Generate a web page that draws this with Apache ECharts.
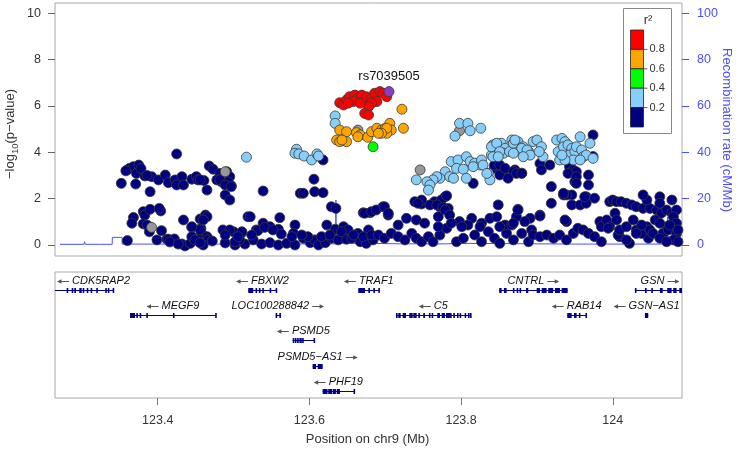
<!DOCTYPE html>
<html><head><meta charset="utf-8">
<script src="https://cdn.jsdelivr.net/npm/echarts@6/dist/echarts.min.js"></script>
<style>html,body{margin:0;padding:0;background:#fff}#c{width:736px;height:450px}</style>
</head><body><div id="c"></div>
<script>
const FONT = '"Liberation Sans", Arial, Helvetica, sans-serif';
// ---------- axes ----------
const posMin = 123.2646, posMax = 124.0913;
const pMin = -0.475, pMax = 10.444;
const pTicks = [0, 2, 4, 6, 8, 10];
const recombTicks = [0, 20, 40, 60, 80, 100];
const posTicks = [123.4, 123.6, 123.8, 124];
const leadName = 'rs7039505';

// ---------- SNPs: [position (Mb), -log10 p] ----------
const navyPts = [
[123.425,3.93],[123.360,3.24],[123.363,3.31],[123.368,3.38],[123.375,3.45],[123.372,3.09],[123.383,2.98],[123.392,2.95],[123.352,2.66],[123.371,2.63],[123.390,2.30],[123.401,2.81],[123.410,3.02],[123.414,2.69],[123.423,2.81],[123.425,2.59],[123.432,2.95],[123.434,2.59],[123.445,2.84],[123.451,2.95],[123.453,2.81],[123.461,2.78],[123.465,2.37],[123.468,3.41],[123.473,3.27],[123.482,3.09],[123.491,3.16],[123.495,2.95],[123.478,2.81],[123.484,2.73],[123.491,2.69],[123.497,2.56],[123.489,2.16],[123.495,1.94],[123.456,2.81],[123.358,3.20],[123.378,3.30],[123.386,3.00],[123.482,2.81],[123.493,2.73],[123.489,2.59],[123.497,2.52],
[123.368,1.19],[123.366,0.94],[123.381,1.44],[123.383,1.29],[123.390,1.54],[123.404,1.47],[123.402,1.58],[123.381,0.91],[123.386,0.86],[123.389,0.57],[123.405,0.62],[123.360,0.19],[123.399,0.22],[123.412,0.25],[123.414,0.25],[123.422,0.26],[123.434,1.08],[123.445,0.76],[123.456,1.12],[123.463,1.29],[123.457,0.72],[123.458,0.50],[123.465,0.36],[123.467,0.25],[123.432,0.04],[123.436,-0.04],[123.443,0.07],[123.445,0.36],[123.449,0.22],[123.460,0.00],[123.465,1.22],[123.460,1.08],[123.456,0.65],[123.445,0.79],[123.486,0.65],[123.500,0.57],[123.511,0.53],[123.519,1.22],[123.416,0.13],[123.427,0.04],[123.456,0.09],[123.472,0.17],[123.489,0.09],[123.502,0.00],[123.515,0.04],[123.508,0.22],
[123.618,3.67],[123.539,2.33],[123.588,2.23],[123.592,2.23],[123.606,2.84],[123.607,2.30],[123.618,2.26],[123.629,1.65],[123.635,1.58],[123.671,1.39],[123.680,1.39],[123.522,1.22],[123.561,1.18],[123.539,0.94],[123.530,0.65],[123.548,0.79],[123.559,0.68],[123.581,0.86],[123.579,0.50],[123.495,0.65],[123.511,0.57],[123.489,0.43],[123.623,0.86],[123.634,0.68],[123.645,0.79],[123.651,0.65],[123.664,0.50],[123.678,0.65],[123.673,1.37],[123.682,1.44],[123.697,1.65],[123.704,1.29],[123.739,1.87],[123.748,1.77],[123.765,1.87],[123.779,2.08],[123.772,1.65],[123.783,1.58],[123.816,2.66],
[123.502,0.14],[123.526,0.22],[123.537,0.04],[123.548,0.10],[123.559,0.00],[123.570,0.07],[123.581,0.00],[123.592,0.29],[123.601,0.10],[123.607,0.22],[123.612,0.00],[123.621,0.10],[123.629,0.29],[123.638,0.22],[123.649,0.25],[123.656,0.29],[123.667,0.14],[123.675,0.07],[123.684,0.22],[123.532,0.62],[123.541,0.76],[123.552,0.65],[123.563,0.47],[123.598,0.36],[123.590,0.43],[123.577,0.36],[123.524,0.43],[123.506,0.36],[123.616,0.36],[123.627,0.43],[123.642,0.57],[123.658,0.43],[123.671,0.36],[123.682,0.43],
[123.748,1.94],[123.743,1.80],[123.759,1.73],[123.774,1.94],[123.781,2.12],[123.768,1.73],[123.776,1.63],[123.844,3.31],[123.851,3.24],[123.860,3.16],[123.871,3.24],[123.880,3.10],[123.862,2.95],[123.851,3.02],[123.688,1.51],[123.699,1.65],[123.704,1.37],[123.728,1.15],[123.741,1.08],[123.770,1.22],[123.779,1.51],[123.785,1.29],[123.798,1.01],[123.814,1.15],[123.827,0.94],[123.838,1.15],[123.849,1.73],[123.875,1.54],[123.873,1.22],[123.891,1.15],
[123.691,0.43],[123.699,0.29],[123.708,0.50],[123.717,0.36],[123.726,0.22],[123.735,0.50],[123.741,0.29],[123.748,0.14],[123.757,0.36],[123.763,0.14],[123.772,0.43],[123.781,0.72],[123.787,0.94],[123.794,0.14],[123.803,0.29],[123.809,0.86],[123.818,0.43],[123.827,0.14],[123.836,0.57],[123.844,0.29],[123.851,0.07],[123.860,0.50],[123.869,0.22],[123.880,0.50],[123.889,0.14],[123.893,0.65],[123.717,0.86],[123.752,0.94],[123.770,0.79],[123.801,0.79],[123.858,0.86],[123.867,0.86],
[123.844,3.45],[123.851,3.45],[123.858,3.31],[123.869,3.16],[123.873,3.09],[123.880,3.09],[123.862,2.88],[123.904,3.52],[123.906,3.24],[123.917,3.45],[123.943,3.38],[123.948,3.24],[123.952,3.16],[123.941,3.09],[123.950,2.73],[123.952,2.95],[123.968,3.02],[123.968,2.59],[123.974,4.75],[123.974,3.82],[123.919,2.52],[123.946,2.16],[123.939,2.16],[123.935,2.16],[123.965,2.08],[123.976,2.02],[123.919,1.80],[123.946,1.73],[123.957,1.73],[123.965,1.80],[123.904,1.29],[123.939,1.01],[123.875,1.51],[123.869,0.94],[123.884,1.01],[123.847,1.22],[123.851,0.79],[123.825,0.79],[123.952,2.66],[123.935,2.23],[123.963,2.08],[123.904,1.25],[123.983,1.01],[124.003,1.37],[124.009,0.36],[124.022,0.07],[124.047,0.29],[124.071,0.79],[123.937,1.08],[123.985,0.79],
[123.996,1.87],[124.000,1.94],[124.005,1.87],[124.011,1.87],[124.018,1.80],[124.025,1.73],[124.031,1.65],[124.040,1.58],[124.049,1.58],[124.058,1.51],[124.064,1.37],[124.071,1.51],[124.078,1.37],[124.084,1.51],[124.078,1.94],[124.062,2.08],[124.062,1.80],[124.045,1.94],[124.040,2.16],[123.992,1.08],[123.996,0.79],[124.007,0.43],[124.009,0.65],[124.018,0.79],[124.027,1.08],[124.031,0.65],[124.038,0.50],[124.045,0.79],[124.049,0.65],[124.056,1.08],[124.062,0.94],[124.066,0.50],[124.073,0.65],[124.080,1.22],[124.084,0.94],[124.084,0.50],[124.080,0.22],
[123.895,0.43],[123.904,0.36],[123.913,0.43],[123.922,0.29],[123.930,0.43],[123.939,0.22],[123.948,0.50],[123.954,0.72],[123.961,0.65],[123.968,0.50],[123.976,0.36],[123.985,0.14],[123.994,0.72],[124.005,1.08],[124.018,0.22],[124.031,0.50],[124.038,0.86],[124.053,0.50],[124.062,0.29],[124.075,0.86],[124.086,0.65],[124.086,0.14],[124.071,0.14]
];
const grayPts = [[123.392,0.76],[123.489,3.16],[123.798,4.93],[123.746,3.24],[123.664,4.96]];
const lightbluePts = [
[123.517,3.79],[123.583,4.13],[123.581,3.96],[123.586,3.93],[123.593,3.84],[123.603,3.67],[123.610,3.93],[123.612,3.84],[123.634,5.57],[123.634,5.25],
[123.798,5.25],[123.809,5.25],[123.812,4.93],[123.792,4.70],[123.826,5.04],[123.842,4.32],[123.853,4.39],[123.858,4.17],[123.867,4.53],[123.875,4.46],[123.882,4.24],[123.889,4.03],[123.871,4.03],[123.856,3.96],[123.840,3.88],[123.895,4.46],
[123.787,3.60],[123.796,3.67],[123.807,3.81],[123.812,3.60],[123.818,3.53],[123.825,3.45],[123.794,3.31],[123.803,3.27],[123.816,3.38],[123.827,3.67],[123.779,3.16],[123.785,2.95],[123.772,2.88],[123.790,2.88],[123.768,2.95],[123.763,2.81],[123.741,2.81],[123.755,2.73],[123.759,2.59],[123.757,2.37],[123.807,2.88],[123.836,3.09],[123.838,2.81],[123.829,3.45],[123.834,3.09],
[123.840,4.24],[123.847,4.39],[123.851,4.03],[123.864,4.03],[123.869,4.39],[123.871,4.53],[123.880,4.17],[123.887,4.10],[123.891,3.88],[123.882,3.81],[123.869,3.96],[123.842,3.81],[123.849,3.81],[123.900,4.53],[123.906,4.24],[123.908,3.81],[123.903,4.03],
[123.926,4.53],[123.933,4.60],[123.937,4.46],[123.928,4.03],[123.935,4.24],[123.941,4.32],[123.946,4.17],[123.943,3.88],[123.950,4.03],[123.952,4.24],[123.957,4.67],[123.959,4.10],[123.961,3.81],[123.965,3.88],[123.970,4.39],[123.930,3.67],[123.948,3.67],[123.957,3.67],[123.974,3.74],[123.937,3.67],[123.933,3.88]
];
const greenPts = [[123.684,4.24]];
const orangePts = [
[123.640,4.96],[123.649,4.89],[123.662,4.85],[123.667,4.75],[123.636,4.53],[123.640,4.46],[123.649,4.46],[123.664,4.67],[123.677,4.65],[123.682,4.89],[123.689,5.04],[123.695,4.96],[123.700,5.04],[123.706,5.25],[123.708,4.96],[123.702,4.82],[123.722,5.86],[123.724,5.04],[123.702,5.04],[123.695,4.82],[123.691,4.82],[123.643,4.53]
];
const redPts = [
[123.640,6.14],[123.645,6.04],[123.649,6.26],[123.653,6.40],[123.660,6.47],[123.664,6.33],[123.669,6.47],[123.673,6.19],[123.675,6.40],[123.682,6.33],[123.686,6.55],[123.689,6.19],[123.693,6.62],[123.697,6.55],[123.702,6.40],[123.682,6.12],[123.678,5.97],[123.673,5.68],[123.678,5.61],[123.658,6.19],[123.651,6.12],[123.667,6.12]
];
const leadPts = [[123.705,6.62]];

// ---------- recombination rate (cM/Mb) ----------
const recombPos  = [123.2712,123.303,123.3035,123.3045,123.325,123.3255,123.3265,123.340,123.3402,123.353,123.3532,123.48,123.6345,123.635,123.6355,123.68,123.72,123.78,123.80,123.85,123.95,124.072,124.0725,124.0735,124.0913];
const recombRate = [0.3,0.3,1.4,0.3,0.3,0.8,0.3,0.3,3.3,3.3,0.4,0.4,0.5,19.4,0.7,0.7,0.5,0.5,0.7,0.6,0.4,0.4,12.2,0.5,0.4];

// ---------- legend ----------
const legendColors = ['#FF0000','#FFA500','#00FF00','#87CEFA','#000080'];
const legendLabels = ['0.8','0.6','0.4','0.2'];

// ---------- genes ----------
const geneName   = ['CDK5RAP2','FBXW2','TRAF1','CNTRL','GSN','MEGF9','LOC100288842','C5','RAB14','GSN\u2212AS1','PSMD5','PSMD5\u2212AS1','PHF19'];
const geneStart  = [123.151,123.5194,123.6645,123.8503,124.0292,123.3635,123.5555,123.7142,123.9400,124.0424,123.5780,123.6043,123.6175];
const geneEnd    = [123.3424,123.5569,123.6922,123.9405,124.0955,123.4768,123.5612,123.8126,123.9647,124.0468,123.6061,123.6175,123.6588];
const geneRow    = [1,1,1,1,1,2,2,2,2,2,3,4,5];
const geneStrand = ['-','-','-','+','+','-','+','-','-','-','-','+','-'];
const geneExons = [
 [[123.2800,123.2817],[123.2866,123.2887],[123.2900,123.2923],[123.2966,123.2998],[123.3011,123.3028],[123.3064,123.3077],[123.3116,123.3134],[123.3190,123.3200],[123.3308,123.3318],[123.3342,123.3352],[123.3406,123.3424]],
 [[123.5194,123.5260],[123.5290,123.5300],[123.5334,123.5344],[123.5379,123.5389],[123.5476,123.5486],[123.5555,123.5569]],
 [[123.6645,123.6733],[123.6777,123.6799],[123.6843,123.6865],[123.6909,123.6922]],
 [[123.8503,123.8535],[123.8565,123.8601],[123.8683,123.8693],[123.8733,123.8754],[123.8771,123.8781],[123.8856,123.8886],[123.8997,123.9040],[123.9063,123.9128],[123.9149,123.9215],[123.9238,123.9304],[123.9326,123.9405]],
 [[124.0292,124.0302],[124.0424,124.0447],[124.0508,124.0518],[124.0622,124.0658],[124.0718,124.0776],[124.0797,124.0842],[124.0877,124.0920]],
 [[123.3635,123.3701],[123.3718,123.3728],[123.3762,123.3772],[123.3850,123.3860],[123.4201,123.4211],[123.4758,123.4768]],
 [[123.5555,123.5563],[123.5604,123.5612]],
 [[123.7142,123.7150],[123.7172,123.7204],[123.7230,123.7274],[123.7317,123.7362],[123.7370,123.7415],[123.7436,123.7458],[123.7501,123.7524],[123.7576,123.7584],[123.7612,123.7633],[123.7686,123.7722],[123.7744,123.7788],[123.7801,123.7876],[123.7897,123.7919],[123.7946,123.7954],[123.7981,123.7989],[123.8047,123.8055],[123.8091,123.8099],[123.8118,123.8126]],
 [[123.9400,123.9458],[123.9489,123.9524],[123.9553,123.9563],[123.9640,123.9647]],
 [[124.0424,124.0468]],
 [[123.5780,123.5800],[123.5808,123.5830],[123.5838,123.5860],[123.5868,123.5900],[123.5905,123.5920],[123.6055,123.6061]],
 [[123.6043,123.6087],[123.6110,123.6175]],
 [[123.6175,123.6240],[123.6248,123.6300],[123.6308,123.6350],[123.6360,123.6403],[123.6582,123.6588]]
];

// ---------- build ----------
const GENE_COLOR = '#00008B';
const BLUE = '#4d4dff';
const ARROW_LEN = 12, ARROW_GAP = 3;
const mctx = document.createElement('canvas').getContext('2d');
function textW(t, font){ mctx.font = font; return mctx.measureText(t).width; }

function renderGene(params, api){
  const i = api.value(3);
  const row = api.value(2);
  const cs = params.coordSys;
  const p0 = api.coord([api.value(0), row]);
  const p1 = api.coord([api.value(1), row]);
  const y = Math.round(p0[1]) + 0.5;
  const x0 = Math.max(p0[0], cs.x), x1 = Math.min(p1[0], cs.x + cs.width);
  const children = [{type:'line', shape:{x1:x0, y1:y, x2:x1, y2:y}, style:{stroke:GENE_COLOR, lineWidth:1}}];
  geneExons[i].forEach(function(ex){
    const ea = api.coord([ex[0], row])[0], eb = api.coord([ex[1], row])[0];
    children.push({type:'rect', shape:{x:ea, y:y-2.5, width:Math.max(eb-ea, 1.6), height:5}, style:{fill:GENE_COLOR}});
  });
  const name = geneName[i];
  const minus = geneStrand[i] === '-';
  const nw = textW(name, 'italic 11px ' + FONT);
  const tw = nw + ARROW_LEN + ARROW_GAP;
  let cx = (p0[0] + p1[0]) / 2;
  cx = Math.max(cs.x + tw/2 + 2, Math.min(cs.x + cs.width - tw/2 - 2, cx));
  const L = cx - tw/2;
  const ty = y - 9.5;
  const ay = Math.round(ty) + 0.5;
  let nameX, a0, a1, tip;
  if (minus) { a0 = L; a1 = L + ARROW_LEN; tip = a0; nameX = L + ARROW_LEN + ARROW_GAP; }
  else { nameX = L; a0 = L + nw + ARROW_GAP; a1 = a0 + ARROW_LEN; tip = a1; }
  const dir = minus ? 1 : -1;
  children.push({type:'line', shape:{x1:a0 + (minus?2:0), y1:ay, x2:a1 - (minus?0:2), y2:ay}, style:{stroke:'#555', lineWidth:1}});
  children.push({type:'polygon', shape:{points:[[tip, ay],[tip + dir*4.5, ay-2.2],[tip + dir*4.5, ay+2.2]]}, style:{fill:'#555'}});
  children.push({type:'text', x:nameX, y:ty, style:{text:name, align:'left', verticalAlign:'middle',
    font:'italic 11px ' + FONT, fill:'#111'}});
  return {type:'group', children:children};
}

function snpSeries(name, data, color, extra){
  return Object.assign({
    name:name, type:'scatter', xAxisIndex:0, yAxisIndex:0, data:data, symbol:'circle', symbolSize:10,
    itemStyle:{color:color, borderColor:'#3a3a3a', borderWidth:0.8, opacity:1}, z:3, silent:true
  }, extra || {});
}

const legendGraphics = [];
const lgX = 630.5, lgTop = 30, lgH = 19.4, lgW = 13;
legendGraphics.push({type:'rect', shape:{x:623.5, y:8.5, width:48, height:125}, style:{fill:'#fff', stroke:'#888', lineWidth:1}, z:10});
legendGraphics.push({type:'text', x:648, y:20, style:{text:'r\u00B2', font:'13px ' + FONT, fill:'#333', align:'center', verticalAlign:'middle'}, z:11});
legendColors.forEach(function(c, k){
  legendGraphics.push({type:'rect', shape:{x:lgX, y:lgTop + k*lgH, width:lgW, height:lgH}, style:{fill:c, stroke:'#222', lineWidth:0.8}, z:11});
});
legendLabels.forEach(function(t, k){
  const yy = lgTop + (k+1)*lgH;
  legendGraphics.push({type:'line', shape:{x1:lgX+lgW, y1:yy, x2:lgX+lgW+4, y2:yy}, style:{stroke:'#333', lineWidth:0.8}, z:11});
  legendGraphics.push({type:'text', x:lgX+lgW+6, y:yy, style:{text:t, font:'11px ' + FONT, fill:'#333', align:'left', verticalAlign:'middle'}, z:11});
});

const option = {
  animation:false,
  backgroundColor:'#fff',
  grid:[
    {left:55, top:3, width:627, height:253, show:true, borderColor:'#a8a8a8', borderWidth:1, backgroundColor:'transparent'},
    {left:55, top:272, width:627, height:126, show:true, borderColor:'#a8a8a8', borderWidth:1, backgroundColor:'transparent'}
  ],
  xAxis:[
    {type:'value', gridIndex:0, min:posMin, max:posMax, axisLine:{show:false}, axisTick:{show:false}, axisLabel:{show:false}, splitLine:{show:false}},
    {type:'value', gridIndex:1, min:posMin, max:posMax, position:'bottom', axisLine:{show:false},
      axisTick:{show:true, customValues:posTicks, length:7, lineStyle:{color:'#777'}},
      axisLabel:{show:true, customValues:posTicks, margin:16, fontSize:12.5, fontFamily:FONT, color:'#333',
        formatter:function(v){ return String(Math.round(v*10)/10); }},
      splitLine:{show:false}}
  ],
  yAxis:[
    {type:'value', gridIndex:0, position:'left', min:pMin, max:pMax, axisLine:{show:false},
      axisTick:{show:true, customValues:pTicks, length:7, lineStyle:{color:'#666'}},
      axisLabel:{show:true, customValues:pTicks, margin:14, fontSize:12.5, fontFamily:FONT, color:'#333'},
      splitLine:{show:false}},
    {type:'value', gridIndex:0, position:'right', min:pMin*10, max:pMax*10, axisLine:{show:false},
      axisTick:{show:true, customValues:recombTicks, length:7, lineStyle:{color:BLUE}},
      axisLabel:{show:true, customValues:recombTicks, margin:15, fontSize:12.5, fontFamily:FONT, color:BLUE},
      splitLine:{show:false}},
    {type:'value', gridIndex:1, min:0.286, max:5.286, inverse:true, show:false, splitLine:{show:false}}
  ],
  series:[
    {name:'recomb', type:'line', xAxisIndex:0, yAxisIndex:1, showSymbol:false, symbol:'none',
      data:recombPos.map(function(p,k){ return [p, recombRate[k]]; }),
      lineStyle:{color:BLUE, width:1}, z:2, silent:true},
    snpSeries('navy', navyPts, '#000080'),
    snpSeries('gray', grayPts, '#979797'),
    snpSeries('lightblue', lightbluePts, '#87CEFA'),
    snpSeries('green', greenPts, '#00FF00'),
    snpSeries('orange', orangePts, '#FFA500'),
    snpSeries('red', redPts, '#FF0000'),
    snpSeries('lead', leadPts, '#8A3CC8', {z:4, label:{show:true, position:'top', distance:3, formatter:leadName,
      fontSize:13, fontFamily:FONT, color:'#111'}}),
    {name:'genes', type:'custom', xAxisIndex:1, yAxisIndex:2, clip:true, silent:true,
      data:geneName.map(function(n,i){ return [geneStart[i], geneEnd[i], geneRow[i], i]; }),
      encode:{x:[0,1], y:2}, renderItem:renderGene}
  ],
  graphic:[
    {type:'text', x:11, y:134, rotation:Math.PI/2, style:{text:'{m|\u2212log}{s|10}{m|(p\u2212value)}', align:'center', verticalAlign:'middle',
      rich:{m:{fontSize:13, fontFamily:FONT, fill:'#333', lineHeight:14, verticalAlign:'top'},
            s:{fontSize:9.5, fontFamily:FONT, fill:'#333', lineHeight:11, verticalAlign:'top', padding:[6,0,0,0]}}}},
    {type:'text', x:727, y:130, rotation:-Math.PI/2, style:{text:'Recombination rate (cM/Mb)', font:'13px ' + FONT, fill:BLUE, align:'center', verticalAlign:'middle'}},
    {type:'text', x:367.5, y:439, style:{text:'Position on chr9 (Mb)', font:'13px ' + FONT, fill:'#333', align:'center', verticalAlign:'middle'}}
  ].concat(legendGraphics)
};
const chart = echarts.init(document.getElementById('c'), null, {renderer:'canvas'});
chart.setOption(option);
</script>
</body></html>
